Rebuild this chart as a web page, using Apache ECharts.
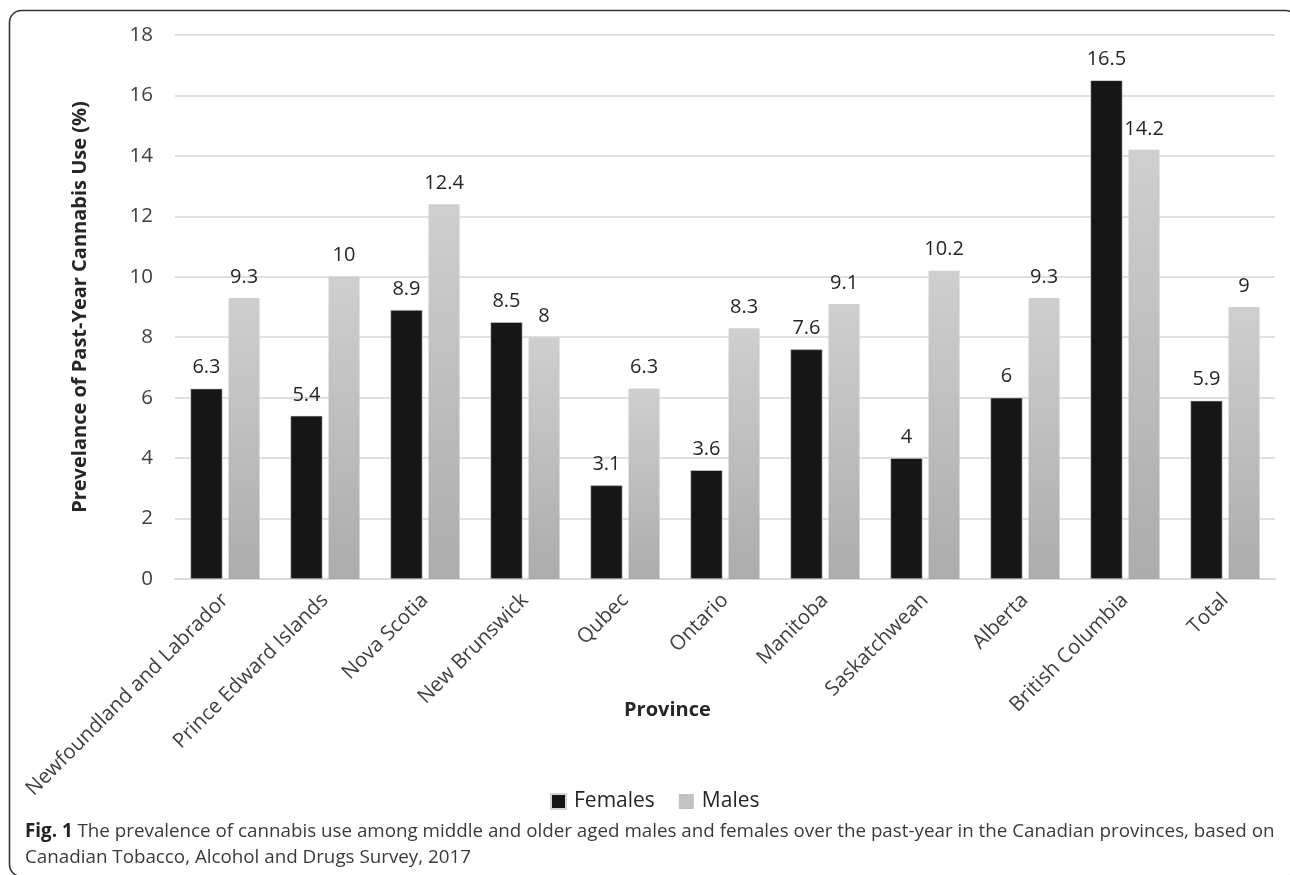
<!DOCTYPE html>
<html>
<head>
<meta charset="utf-8">
<script src="https://cdn.jsdelivr.net/npm/echarts@6/dist/echarts.min.js"></script>
<style>
  html, body { margin: 0; padding: 0; background: #fff; }
  #chart { width: 1290px; height: 875px; }
</style>
</head>
<body>
<div id="chart"></div>
<script>
// Provinces on the category axis
const provinces = [
  'Newfoundland and Labrador', 'Prince Edward Islands', 'Nova Scotia',
  'New Brunswick', 'Qubec', 'Ontario', 'Manitoba', 'Saskatchwean',
  'Alberta', 'British Columbia', 'Total'
];
// Past-year prevalence (%) by sex
const females = [6.3, 5.4, 8.9, 8.5, 3.1, 3.6, 7.6, 4, 6, 16.5, 5.9];
const males = [9.3, 10, 12.4, 8, 6.3, 8.3, 9.1, 10.2, 9.3, 14.2, 9];
// Value axis ticks
const yTicks = [0, 2, 4, 6, 8, 10, 12, 14, 16, 18];

const FONT = '"Open Sans", "Noto Sans", sans-serif';
const TEXT = '#404040';

const chart = echarts.init(document.getElementById('chart'), null, { renderer: 'canvas' });

const maleFill = new echarts.graphic.LinearGradient(0, 0, 0, 1, [
  { offset: 0, color: '#cfcfcf' },
  { offset: 1, color: '#acacac' }
]);

const labelStyle = {
  show: true,
  position: 'top',
  distance: 11,
  color: '#262626',
  fontFamily: FONT,
  fontSize: 20
};

chart.setOption({
  backgroundColor: '#ffffff',
  animation: false,
  textStyle: { fontFamily: FONT },
  grid: { left: 175, right: 15, top: 35, bottom: 296, containLabel: false },
  legend: {
    data: [
      { name: 'Females', itemStyle: { color: '#161616' } },
      { name: 'Males', itemStyle: { color: '#c2c2c2' } }
    ],
    left: 545,
    top: 786,
    icon: 'rect',
    itemWidth: 15,
    itemHeight: 15,
    itemGap: 24,
    textStyle: { fontFamily: FONT, fontSize: 21, color: '#262626', padding: [0, 0, 0, 3] }
  },
  xAxis: {
    type: 'category',
    data: provinces,
    axisLine: { show: true, lineStyle: { color: '#d9d9d9', width: 2 } },
    axisTick: { show: false },
    axisLabel: {
      rotate: 45,
      interval: 0,
      margin: 18,
      color: TEXT,
      fontFamily: FONT,
      fontSize: 20.5
    }
  },
  yAxis: {
    type: 'value',
    min: yTicks[0],
    max: yTicks[yTicks.length - 1],
    interval: yTicks[1] - yTicks[0],
    axisLine: { show: false },
    axisTick: { show: false },
    splitLine: { lineStyle: { color: '#e0e0e0', width: 2 } },
    axisLabel: { margin: 22, color: TEXT, fontFamily: FONT, fontSize: 20.5 },
    name: 'Prevelance of Past-Year Cannabis Use (%)',
    nameLocation: 'middle',
    nameGap: 85,
    nameTextStyle: { fontFamily: FONT, fontSize: 20, fontWeight: 'bold', color: '#262626' }
  },
  series: [
    {
      name: 'Females',
      type: 'bar',
      data: females,
      barWidth: 32,
      barGap: '19%',
      itemStyle: { color: '#161616', borderColor: '#d4d4d4', borderWidth: 0.6 },
      label: labelStyle
    },
    {
      name: 'Males',
      type: 'bar',
      data: males,
      barWidth: 31,
      itemStyle: { color: maleFill },
      label: labelStyle
    }
  ],
  graphic: [
    {
      type: 'rect',
      shape: { x: 9.5, y: 10.5, width: 1288, height: 866, r: 12 },
      style: { fill: 'none', stroke: '#333', lineWidth: 1.6 },
      silent: true
    },
    {
      type: 'text',
      left: 624,
      top: 700,
      style: { text: 'Province', font: 'bold 20px ' + FONT, fill: '#262626' }
    },
    {
      type: 'text',
      left: 25,
      top: 819,
      style: {
        text: '{b|Fig. 1} The prevalence of cannabis use among middle and older aged males and females over the past-year in the Canadian provinces, based on\nCanadian Tobacco, Alcohol and Drugs Survey, 2017',
        font: '18.8px ' + FONT,
        fill: '#3a3a3a',
        lineHeight: 26,
        rich: {
          b: { font: 'bold 18.8px ' + FONT, fill: '#222', lineHeight: 26 }
        }
      }
    }
  ]
});
</script>
</body>
</html>
